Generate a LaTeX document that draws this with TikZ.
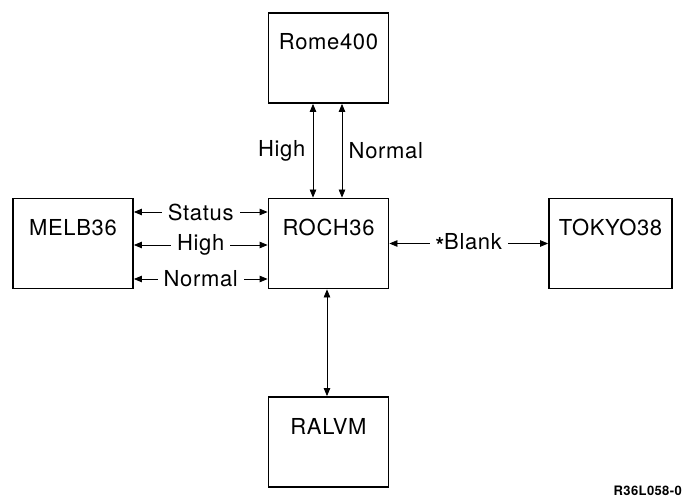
\documentclass[tikz,border=0pt]{standalone}
\usepackage{fontspec}
\setmainfont{TeX Gyre Heros}[LetterSpace=3]
\usetikzlibrary{arrows.meta}

\begin{document}
\begin{tikzpicture}[x=1pt, y=-1pt, every node/.style={font=\fontsize{22}{26}\selectfont}, >={Triangle[length=8pt,width=6.5pt]},
	sysbox/.style={draw, line width=1.8pt, minimum width=120pt, inner sep=0pt, text height=37pt, text depth=53pt},
	link/.style={<->, line width=0.8pt},
	tag/.style={fill=white, inner xsep=6pt, inner ysep=1pt}]
	\useasboundingbox (0,0) rectangle (683,497);
	% systems
	\node[sysbox] (rome) at (328.5,58) {Rome400};
	\node[sysbox] (roch) at (328.5,243.5) {ROCH36};
	\node[sysbox] (melb) at (73,243.5) {MELB36};
	\node[sysbox, minimum width=123pt] (tokyo) at (610.5,243.5) {TOKYO38};
	\node[sysbox] (ralvm) at (328.5,442) {RALVM};
	% links
	\draw[link] ([xshift=-15.5pt]rome.south) -- node[left=4pt]{High} ([xshift=-15.5pt]roch.north);
	\draw[link] ([xshift=13.5pt]rome.south) -- node[right=3pt]{Normal} ([xshift=13.5pt]roch.north);
	\draw[link] ([yshift=31.5pt]melb.east) -- node[tag]{Status} ([yshift=31.5pt]roch.west);
	\draw[link] ([yshift=-1.5pt]melb.east) -- node[tag]{High} ([yshift=-1.5pt]roch.west);
	\draw[link] ([yshift=-35.5pt]melb.east) -- node[tag]{Normal} ([yshift=-35.5pt]roch.west);
	\draw[link] (roch.east) -- node[tag]{\raisebox{-0.4ex}{\bfseries*}Blank} (tokyo.west);
	\draw[link] ([xshift=-1.5pt]roch.south) -- ([xshift=-1.5pt]ralvm.north);
	\node[anchor=base east, inner sep=0pt, font=\fontsize{13}{15}\selectfont\bfseries] (fignum) at (682,495) {R36L058-0};
\end{tikzpicture}
\end{document}
